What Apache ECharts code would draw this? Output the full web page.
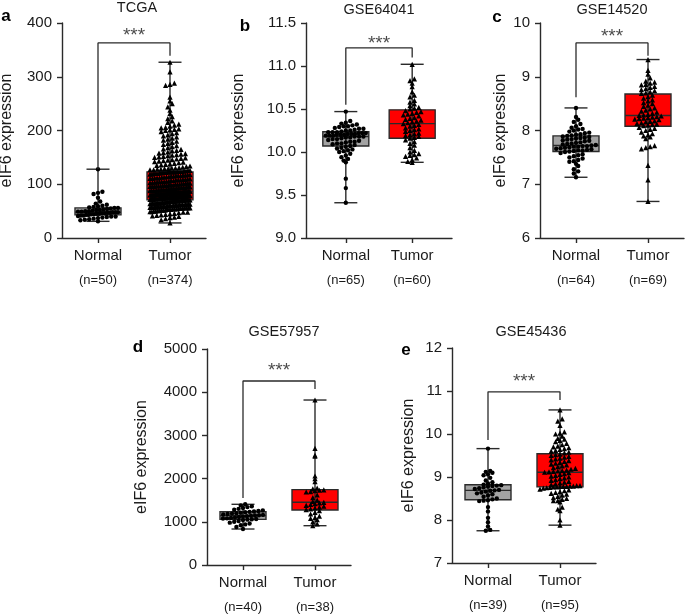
<!DOCTYPE html>
<html><head><meta charset="utf-8">
<script src="https://cdn.jsdelivr.net/npm/echarts@6/dist/echarts.min.js"></script>
<style>html,body{margin:0;padding:0;background:#fff}#c{width:685px;height:615px}</style>
</head><body><div id="c"></div>
<script>
// ---------- DATA ----------
const groups = ['Normal', 'Tumor'];
const titles = ['TCGA', 'GSE64041', 'GSE14520', 'GSE57957', 'GSE45436'];
const letters = ['a', 'b', 'c', 'd', 'e'];
const nCounts = [[50, 374], [65, 60], [64, 69], [40, 38], [39, 95]];
const yMin = [0, 9, 6, 0, 7];
const yMax = [400, 11.5, 10, 5000, 12];
const yInterval = [100, 0.5, 1, 1000, 1];
const yDecimals = [0, 1, 0, 0, 0];

// box statistics [min, Q1, median, Q3, max] for Normal, Tumor
const boxA = [[31, 43, 48, 56, 128], [28, 71, 87, 123, 327]];
const boxB = [[9.41, 10.07, 10.18, 10.235, 10.47], [9.88, 10.16, 10.33, 10.49, 11.02]];
const boxC = [[7.13, 7.61, 7.72, 7.90, 8.42], [6.68, 8.08, 8.28, 8.68, 9.32]];
const boxD = [[833, 1057, 1142, 1234, 1405], [910, 1273, 1451, 1744, 3819]];
const boxE = [[7.75, 8.47, 8.69, 8.82, 9.66], [7.88, 8.77, 9.11, 9.54, 10.56]];

// individual sample values
const normalA = [128,86,84,82,75,68,64,62,60,59,58,57,56,56,55,54,53,52,52,51,50,50,49,49,48,48,48,47,47,46,46,45,45,44,44,43,43,42,42,41,40,40,39,38,37,36,35,34,33,31];
const tumorA = [327,309,288,286,284,262,255,250,244,238,232,226,222,218,215,212,210,208,206,205,203,202,201,200,
198,196,194,192,190,188,186,184,182,180,178,176,174,172,170,168,166,165,163,162,160,159,158,157,156,155,154,153,152,151,
150,149,148,147,146,145,144,143,142,141,140,139,138,137,136,135,134,133,132,131,130,130,129,129,128,128,127,127,126,126,125,125,124,124,124,123,123,123,123,123,
122,122,121,121,120,120,120,119,119,118,118,117,117,116,116,116,115,115,114,114,113,113,112,112,112,111,111,110,110,109,109,108,108,108,107,107,106,106,105,105,105,104,104,103,103,102,102,102,101,101,100,100,100,99,99,99,98,98,98,97,97,97,96,96,96,95,95,95,94,94,94,93,93,93,92,92,92,91,91,91,90,90,90,89,89,89,88,88,88,88,87,87,87,
86,86,86,86,86,86,85,85,85,85,85,85,84,84,84,84,84,84,83,83,83,83,83,83,82,82,82,82,82,82,81,81,81,81,81,81,80,80,80,80,80,80,79,79,79,79,79,79,78,78,78,78,78,78,77,77,77,77,77,77,76,76,76,76,76,76,75,75,75,75,75,75,74,74,74,74,74,74,73,73,73,73,73,73,72,72,72,72,72,71,71,71,71,71,
70,70,70,70,69,69,69,69,68,68,68,68,67,67,67,67,66,66,66,66,65,65,65,65,64,64,64,64,63,63,63,63,62,62,62,62,61,61,61,61,60,60,60,60,59,59,59,59,58,58,58,58,57,57,57,57,56,56,56,56,55,55,55,54,54,54,53,53,53,52,52,52,51,51,50,50,49,49,48,48,47,46,45,44,43,42,41,40,39,38,36,34,28];
const normalB = [9.41,9.58,9.69,9.88,9.90,9.92,9.94,9.96,9.98,10.00,10.01,10.02,10.03,10.04,10.05,10.06,
10.07,10.08,10.09,10.10,10.10,10.11,10.12,10.12,10.13,10.14,10.15,10.15,10.16,10.17,10.17,10.18,10.18,
10.18,10.19,10.19,10.19,10.20,10.20,10.20,10.21,10.21,10.21,10.22,10.22,10.22,10.23,10.23,10.23,
10.24,10.25,10.25,10.26,10.27,10.27,10.28,10.29,10.30,10.30,10.31,10.32,10.33,10.34,10.36,10.47];
const tumorB = [11.02,10.85,10.83,10.80,10.76,10.70,10.66,10.64,10.60,10.58,10.56,10.54,10.52,10.51,10.50,
10.48,10.47,10.46,10.45,10.44,10.43,10.42,10.40,10.39,10.38,10.37,10.36,10.35,10.34,10.33,
10.32,10.31,10.30,10.28,10.27,10.26,10.25,10.24,10.22,10.21,10.20,10.19,10.18,10.17,10.16,
10.14,10.12,10.10,10.08,10.05,10.02,10.00,9.98,9.97,9.96,9.95,9.93,9.91,9.89,9.88];
const normalC = [8.42,8.25,8.20,8.16,8.12,8.08,8.05,8.03,8.02,8.00,7.98,7.96,7.95,7.93,7.92,7.91,
7.90,7.89,7.88,7.87,7.86,7.85,7.84,7.83,7.82,7.81,7.80,7.78,7.77,7.76,7.75,7.74,
7.73,7.72,7.71,7.71,7.70,7.70,7.69,7.68,7.67,7.66,7.65,7.64,7.63,7.63,7.62,7.61,
7.60,7.58,7.56,7.54,7.52,7.50,7.48,7.45,7.43,7.42,7.38,7.34,7.28,7.24,7.20,7.13];
const tumorC = [9.32,9.12,9.05,8.98,8.92,8.90,8.88,8.86,8.85,8.82,8.80,8.78,8.76,8.74,8.72,8.70,8.69,
8.66,8.63,8.60,8.57,8.55,8.52,8.50,8.47,8.45,8.42,8.40,8.38,8.36,8.34,8.32,8.30,8.29,8.28,
8.27,8.26,8.25,8.24,8.23,8.22,8.21,8.20,8.18,8.17,8.16,8.14,8.13,8.12,8.11,8.10,8.09,
8.06,8.04,8.02,8.00,7.97,7.94,7.92,7.90,7.88,7.85,7.72,7.70,7.68,7.66,7.35,7.08,6.68];
const normalD = [1405,1380,1360,1340,1320,1300,1280,1265,1250,1240,
1230,1220,1210,1200,1190,1180,1170,1160,1150,1145,
1140,1130,1120,1110,1100,1090,1080,1075,1065,1060,
1050,1040,1020,1000,980,960,940,920,880,833];
const tumorD = [3819,2700,2540,2520,2060,2000,1930,1780,1760,
1740,1730,1720,1700,1690,1620,1560,1500,1470,
1450,1440,1420,1400,1380,1360,1340,1320,1300,1280,
1260,1220,1180,1130,1100,1080,1050,1000,950,910];
const normalE = [9.66,9.14,9.12,9.10,9.06,9.04,8.98,8.92,8.88,8.85,
8.82,8.81,8.80,8.79,8.78,8.76,8.74,8.72,8.70,8.69,
8.68,8.66,8.64,8.62,8.60,8.57,8.54,8.50,8.48,
8.46,8.45,8.44,8.30,8.20,8.05,7.95,7.85,7.77,7.75];
const tumorE = [10.56,10.35,10.30,10.20,10.05,10.02,10.00,9.95,9.90,9.88,9.85,9.82,9.78,9.75,9.72,9.70,9.68,9.66,9.64,9.62,9.60,9.58,9.56,
9.53,9.52,9.50,9.48,9.46,9.44,9.42,9.40,9.38,9.36,9.34,9.32,9.30,9.28,9.26,9.24,9.22,9.20,9.18,9.16,9.15,9.14,9.13,9.12,9.11,
9.10,9.08,9.06,9.04,9.02,9.00,8.98,8.96,8.94,8.92,8.90,8.88,8.86,8.84,8.82,8.80,8.80,8.79,8.79,8.78,8.78,8.78,8.77,8.77,
8.76,8.75,8.74,8.72,8.70,8.68,8.66,8.64,8.62,8.60,8.58,8.55,8.52,8.50,8.48,8.45,8.45,8.42,8.30,8.25,8.22,8.00,7.88];

// significance annotation: bracket level, left leg bottom, right leg bottom, star level
const bracketLevel = [363, 11.21, 9.63, 4259, 10.98];
const legLeft = [129, 10.55, 8.62, 1551, 9.86];
const legRight = [339, 11.10, 9.39, 4074, 10.79];
const starLevel = [383, 11.30, 9.81, 4583, 11.30];

const boxes = [boxA, boxB, boxC, boxD, boxE];
const points = [[normalA, tumorA], [normalB, tumorB], [normalC, tumorC], [normalD, tumorD], [normalE, tumorE]];

// ---------- LAYOUT ----------
const FONT = 'Liberation Sans, Arial, Helvetica, sans-serif';
const TXT = '#1a1a1a';
const AX = '#2a2a2a';
const gridLeft = [62, 306, 540, 207, 452];
const gridTop = [23, 23, 23, 349, 348];
const gridW = [144, 146, 144, 144, 144];
const gridH = [215, 215, 215, 216, 215];
const xMin = [-0.5, -0.6, -0.5, -0.5, -0.5];
const xMax = [1.5, 1.6, 1.5, 1.5, 1.5];
const nameGap = [47, 59, 31, 57, 35];
const titlePos = [[137, 8], [379, 10], [612, 10], [284, 332], [531, 332]];
const letterPos = [[6, 16], [245, 26], [497, 17], [138, 347], [406, 350]];
const boxColors = ['#a3a3a3', '#ff0000'];

const chart = echarts.init(document.getElementById('c'), null, {renderer: 'canvas'});

function renderBox(params, api) {
  const x = api.value(0);
  const pMin = api.coord([x, api.value(1)]);
  const pQ1 = api.coord([x, api.value(2)]);
  const pMed = api.coord([x, api.value(3)]);
  const pQ3 = api.coord([x, api.value(4)]);
  const pMax = api.coord([x, api.value(5)]);
  const cx = pMin[0];
  const hw = 23, cw = 11.5;
  const ls = {stroke: AX, lineWidth: 1.4};
  return {type: 'group', children: [
    {type: 'rect', shape: {x: cx - hw, y: pQ3[1], width: 2 * hw, height: pQ1[1] - pQ3[1]},
     style: {fill: boxColors[api.value(6)], stroke: AX, lineWidth: 1.4}},
    {type: 'line', shape: {x1: cx, y1: pMax[1], x2: cx, y2: pMin[1]}, style: ls},
    {type: 'line', shape: {x1: cx - cw, y1: pMax[1], x2: cx + cw, y2: pMax[1]}, style: ls},
    {type: 'line', shape: {x1: cx - cw, y1: pMin[1], x2: cx + cw, y2: pMin[1]}, style: ls},
    {type: 'line', shape: {x1: cx - hw, y1: pMed[1], x2: cx + hw, y2: pMed[1]}, style: ls}
  ]};
}

function swarm(values, center, gi) {
  const finder = {xAxisIndex: gi, yAxisIndex: gi};
  const rowH = 4.2, dx = 4.4, maxW = 40;
  const rows = {};
  values.slice().sort((a, b) => a - b).forEach(v => {
    const p = chart.convertToPixel(finder, [center, v]);
    const r = Math.round(p[1] / rowH);
    (rows[r] = rows[r] || []).push([v, p]);
  });
  const out = [];
  Object.keys(rows).forEach(r => {
    const arr = rows[r];
    const n = arr.length;
    const sp = n > 1 ? Math.min(dx, maxW / (n - 1)) : 0;
    arr.forEach((it, k) => {
      const off = (k - (n - 1) / 2) * sp;
      const xv = chart.convertFromPixel(finder, [it[1][0] + off, it[1][1]])[0];
      out.push([xv, it[0]]);
    });
  });
  return out;
}

function buildOption(sw) {
  const grid = [], xAxis = [], yAxis = [], series = [], graphic = [];
  for (let i = 0; i < 5; i++) {
    grid.push({left: gridLeft[i], top: gridTop[i], width: gridW[i], height: gridH[i], containLabel: false, outerBoundsMode: 'none'});
    xAxis.push({
      gridIndex: i, type: 'value', min: xMin[i], max: xMax[i],
      splitLine: {show: false},
      axisLine: {show: true, onZero: false, lineStyle: {color: AX, width: 1.4}},
      axisTick: {show: true, customValues: [0, 1], length: 5, lineStyle: {color: AX, width: 1.4}},
      axisLabel: {
        show: true, customValues: [0, 1], margin: 9,
        formatter: (v) => {
          const k = Math.round(v);
          return '{a|' + groups[k] + '}\n{b|(n=' + nCounts[i][k] + ')}';
        },
        rich: {
          a: {fontSize: 15, lineHeight: 18, color: TXT, fontFamily: FONT},
          b: {fontSize: 13, lineHeight: 31, color: TXT, fontFamily: FONT}
        }
      }
    });
    yAxis.push({
      gridIndex: i, type: 'value', min: yMin[i], max: yMax[i], interval: yInterval[i],
      splitLine: {show: false},
      axisLine: {show: true, onZero: false, lineStyle: {color: AX, width: 1.4}},
      axisTick: {show: true, length: 5, lineStyle: {color: AX, width: 1.4}},
      axisLabel: {show: true, margin: 10, fontSize: 15, color: TXT, fontFamily: FONT,
        formatter: (v) => v.toFixed(yDecimals[i])},
      name: 'eIF6 expression', nameLocation: 'middle', nameGap: nameGap[i],
      nameTextStyle: {fontSize: 16, color: TXT, fontFamily: FONT}
    });
    series.push({
      type: 'custom', xAxisIndex: i, yAxisIndex: i, renderItem: renderBox, silent: true, z: 2,
      encode: {x: 0, y: [1, 2, 3, 4, 5]},
      data: [[0].concat(boxes[i][0], [0]), [1].concat(boxes[i][1], [1])]
    });
    for (let g = 0; g < 2; g++) {
      series.push({
        type: 'scatter', xAxisIndex: i, yAxisIndex: i, silent: true, z: 3,
        symbol: g === 0 ? 'circle' : 'triangle', symbolSize: g === 0 ? 4.4 : 5.2,
        itemStyle: {color: '#000', opacity: 1},
        data: sw ? sw[i][g] : []
      });
    }
    series.push({
      type: 'line', xAxisIndex: i, yAxisIndex: i, silent: true, z: 4, symbol: 'none',
      lineStyle: {color: AX, width: 1.3},
      data: [[0, legLeft[i]], [0, bracketLevel[i]], [1, bracketLevel[i]], [1, legRight[i]]]
    });
    series.push({
      type: 'scatter', xAxisIndex: i, yAxisIndex: i, silent: true, z: 4, symbolSize: 0,
      label: {show: true, position: 'inside', formatter: '***', fontSize: 19, color: TXT, fontFamily: FONT, offset: [0, 4]},
      data: [[0.5, starLevel[i]]]
    });
    graphic.push({type: 'text', x: titlePos[i][0], y: titlePos[i][1],
      style: {text: titles[i], fill: TXT, font: '14.5px ' + FONT, align: 'center', verticalAlign: 'middle'}});
    graphic.push({type: 'text', x: letterPos[i][0], y: letterPos[i][1],
      style: {text: letters[i], fill: '#000', font: 'bold 17px ' + FONT, align: 'center', verticalAlign: 'middle'}});
  }
  return {animation: false, backgroundColor: '#fff', textStyle: {fontFamily: FONT},
    grid, xAxis, yAxis, series, graphic};
}

chart.setOption(buildOption(null));
const sw = points.map((p, i) => [swarm(p[0], 0, i), swarm(p[1], 1, i)]);
chart.setOption(buildOption(sw), true);
</script>
</body></html>
